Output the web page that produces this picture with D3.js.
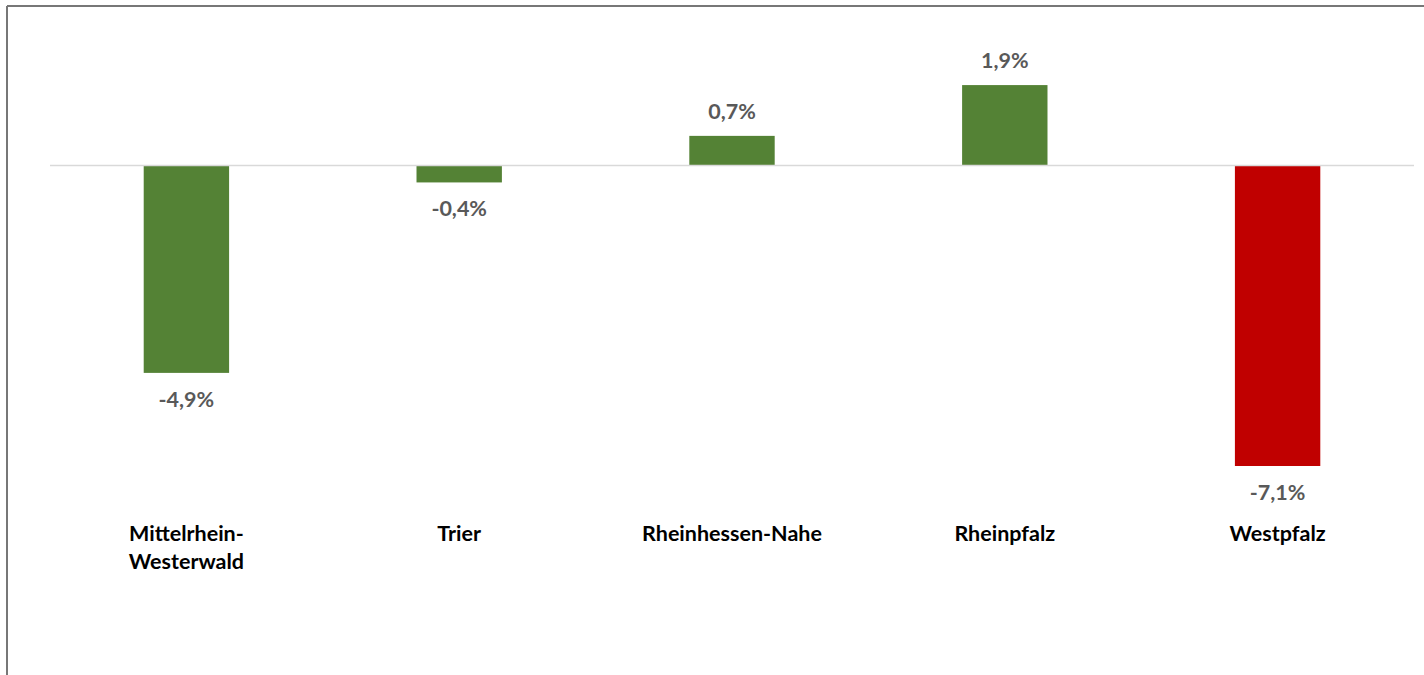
<!DOCTYPE html>
<meta charset="utf-8">
<style>
    body { margin: 0; background: #fff; }
    svg { display: block; }
    .val { font: bold 21.5px Lato, "Open Sans", sans-serif; fill: #595959; text-anchor: middle; }
    .cat { font: bold 21.5px Lato, "Open Sans", sans-serif; fill: #000; text-anchor: middle; }
</style>
<body>
<div id="chart"></div>
<script src="https://d3js.org/d3.v7.min.js"></script>
<script>

    // data
    var regions = [["Mittelrhein-", "Westerwald"], ["Trier"], ["Rheinhessen-Nahe"], ["Rheinpfalz"], ["Westpfalz"]];
    var values = [-4.9, -0.4, 0.7, 1.9, -7.1];
    var barColors = ["#548235", "#548235", "#548235", "#548235", "#C00000"];

    var width = 1424, height = 675;

    var svg = d3.select("#chart")
        .append("svg")
        .attr("width", width)
        .attr("height", height);

    // frame (top and left edges visible)
    svg.append("line").attr("x1", 7).attr("x2", width).attr("y1", 6).attr("y2", 6)
        .attr("stroke", "#777").attr("stroke-width", 2);
    svg.append("line").attr("x1", 7).attr("x2", 7).attr("y1", 6).attr("y2", height)
        .attr("stroke", "#777").attr("stroke-width", 2);

    var x = d3.scaleBand()
        .domain(d3.range(values.length))
        .range([50, 1414])
        .paddingInner(0.687)
        .paddingOuter(0.3435);

    var y = d3.scaleLinear()
        .domain([-7.1, 0])
        .range([466, 165.5]);

    // bars
    svg.append("g")
        .selectAll("rect")
        .data(values)
        .enter()
        .append("rect")
        .attr("x", function (d, i) { return x(i); })
        .attr("y", function (d) { return Math.min(y(d), y(0)); })
        .attr("width", x.bandwidth())
        .attr("height", function (d) { return Math.abs(y(d) - y(0)); })
        .attr("fill", function (d, i) { return barColors[i]; });

    // zero line
    svg.append("line")
        .attr("x1", 50).attr("x2", 1414)
        .attr("y1", y(0)).attr("y2", y(0))
        .attr("stroke", "#d9d9d9").attr("stroke-width", 1.5);

    // value labels
    svg.append("g")
        .selectAll("text")
        .data(values)
        .enter()
        .append("text")
        .attr("class", "val")
        .attr("x", function (d, i) { return x(i) + x.bandwidth() / 2; })
        .attr("y", function (d) { return d < 0 ? y(d) + 34 : y(d) - 17; })
        .text(function (d) { return d3.format(".1f")(d).replace(".", ",").replace("−", "-") + "%"; });

    // category labels
    var cats = svg.append("g")
        .selectAll("text")
        .data(regions)
        .enter()
        .append("text")
        .attr("class", "cat")
        .attr("x", function (d, i) { return x(i) + x.bandwidth() / 2; })
        .attr("y", 541);

    cats.selectAll("tspan")
        .data(function (d) { return d; })
        .enter()
        .append("tspan")
        .attr("x", function () { return d3.select(this.parentNode).attr("x"); })
        .attr("dy", function (d, j) { return j === 0 ? 0 : 28; })
        .text(function (d) { return d; });

</script>
</body>
